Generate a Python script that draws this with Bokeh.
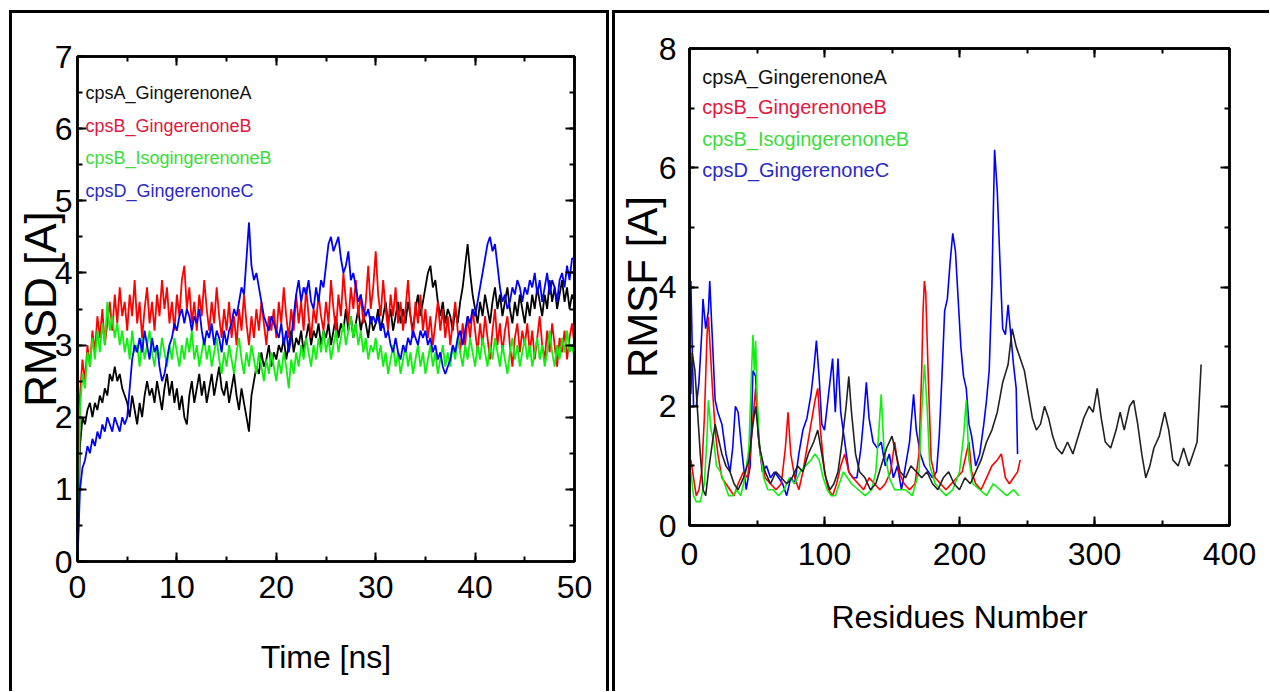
from bokeh.plotting import figure
from bokeh.models import Range1d, LinearAxis, SingleIntervalTicker, Label, CustomJSTickFormatter
from bokeh.layouts import row
from bokeh.embed import file_html
from bokeh.resources import INLINE

# ---------------- data: RMSD (every 0.25 ns) ----------------
rmsd_cpsA_GingerenoneA = [
    0.0, 1.6, 2.0, 1.9, 2.1, 2.2, 2.0, 2.2, 2.1, 2.3, 2.2, 2.4, 2.3, 2.6, 2.5, 2.7, 2.5, 2.6, 2.4, 2.3,
    2.2, 2.0, 2.3, 2.1, 1.9, 2.2, 2.0, 2.3, 2.5, 2.3, 2.4, 2.2, 2.5, 2.3, 2.1, 2.4, 2.6, 2.3, 2.5, 2.2,
    2.4, 2.1, 2.3, 2.0, 1.9, 2.3, 2.5, 2.2, 2.4, 2.6, 2.3, 2.5, 2.2, 2.4, 2.6, 2.3, 2.5, 2.7, 2.4, 2.3,
    2.5, 2.2, 2.4, 2.6, 2.3, 2.1, 2.4, 2.2, 2.0, 1.8, 2.3, 2.5, 2.7, 2.6, 2.9, 2.7, 2.8, 3.0, 2.7, 2.9,
    2.8, 3.0, 2.9, 3.1, 2.8, 3.0, 3.2, 2.9, 3.1, 3.0, 3.2, 2.9, 3.1, 3.3, 3.0, 3.2, 3.1, 3.3, 3.0, 3.2,
    3.1, 3.3, 3.0, 3.2, 3.4, 3.1, 3.3, 3.2, 3.5, 3.2, 3.4, 3.1, 3.3, 3.5, 3.2, 3.4, 3.3, 3.1, 3.4, 3.2,
    3.3, 3.5, 3.2, 3.4, 3.6, 3.3, 3.5, 3.2, 3.4, 3.6, 3.3, 3.5, 3.3, 3.6, 3.4, 3.2, 3.5, 3.7, 3.4, 3.6,
    3.8, 4.0, 4.1, 3.8, 3.9, 3.6, 3.4, 3.6, 3.3, 3.5, 3.4, 3.2, 3.5, 3.3, 3.6, 3.8, 4.1, 4.4, 4.0, 3.7,
    3.5, 3.3, 3.6, 3.4, 3.7, 3.5, 3.3, 3.6, 3.8, 3.5, 3.7, 3.4, 3.6, 3.8, 3.5, 3.3, 3.6, 3.4, 3.7, 3.5,
    3.3, 3.6, 3.4, 3.7, 3.5, 3.8, 3.6, 3.4, 3.7, 3.5, 3.9, 3.6, 3.8, 3.5, 3.7, 3.9, 3.6, 3.8, 3.5, 3.7,
    3.6]
rmsd_cpsB_GingerenoneB = [
    0.0, 2.3, 2.8, 2.5, 3.0, 2.7, 3.2, 2.9, 3.4, 3.1, 3.5, 3.0, 3.3, 3.6, 3.2, 3.7, 3.3, 3.8, 3.4, 3.6,
    3.2, 3.7, 3.4, 3.9, 3.3, 3.6, 3.1, 3.5, 3.8, 3.3, 3.6, 3.2, 3.7, 3.4, 3.9, 3.5, 3.8, 3.3, 3.6, 3.2,
    3.7, 3.4, 3.9, 4.1, 3.5, 3.8, 3.3, 3.6, 3.2, 3.7, 3.4, 3.9, 3.5, 3.2, 3.6, 3.3, 3.8, 3.4, 3.1, 3.5,
    3.2, 3.6, 3.1, 3.4, 3.0, 3.5, 3.2, 3.7, 3.3, 3.0, 3.4, 3.1, 3.5, 3.2, 3.6, 3.3, 3.0, 3.4, 3.2, 3.5,
    3.1, 3.6, 3.3, 3.8, 3.4, 3.1, 3.5, 3.2, 3.7, 3.3, 3.6, 3.2, 3.8, 3.4, 3.1, 3.5, 3.3, 3.7, 3.4, 3.2,
    3.6, 3.3, 3.9, 3.5, 3.2, 3.7, 3.4, 4.0, 3.6, 3.3, 3.8, 3.5, 3.9, 3.4, 3.7, 3.3, 3.6, 4.1, 3.5, 3.8,
    4.3, 3.7, 3.4, 3.9, 3.5, 3.2, 3.7, 3.4, 3.8, 3.3, 3.6, 3.2, 3.5, 3.9, 3.4, 3.1, 3.6, 3.3, 3.7, 3.2,
    3.5, 3.1, 3.4, 3.0, 3.3, 3.6, 3.2, 3.5, 3.1, 3.4, 3.0, 3.3, 3.6, 3.2, 2.9, 3.3, 3.0, 3.4, 3.1, 3.5,
    3.2, 2.9, 3.3, 3.0, 3.4, 3.1, 2.8, 3.2, 3.5, 3.0, 3.3, 2.9, 3.2, 3.4, 3.0, 2.7, 3.1, 3.3, 2.9, 3.2,
    3.0, 3.3, 2.9, 3.2, 2.8, 3.1, 3.4, 3.0, 2.8, 3.2, 2.9, 3.3, 3.0, 2.7, 3.1, 2.9, 3.2, 2.8, 3.1, 3.3,
    3.0]
rmsd_cpsB_IsogingerenoneB = [
    0.0, 2.1, 2.6, 2.4, 2.9, 2.7, 3.1, 2.8, 3.2, 2.9, 3.3, 3.0, 3.6, 3.2, 3.4, 3.1, 3.3, 3.0, 3.2, 2.9,
    3.1, 2.8, 3.2, 2.9, 3.0, 2.7, 3.1, 2.8, 3.0, 3.2, 2.9, 2.7, 3.0, 2.8, 3.1, 2.9, 2.7, 3.0, 2.8, 3.1,
    2.9, 2.7, 3.0, 2.8, 3.1, 2.9, 3.2, 2.8, 3.0, 2.7, 2.9, 3.1, 2.8, 3.0, 2.7, 2.9, 3.1, 2.8, 2.6, 2.9,
    2.7, 3.0, 2.8, 2.6, 2.9, 3.1, 2.8, 2.6, 2.9, 2.7, 3.0, 2.8, 2.6, 2.9, 2.7, 2.5, 2.8, 2.6, 2.9, 2.7,
    2.5, 2.8, 2.6, 2.9, 2.7, 2.4, 2.8, 2.6, 2.9, 2.7, 3.0, 2.8, 3.1, 2.9, 2.7, 3.0, 2.8, 3.1, 2.9, 3.2,
    2.9, 3.1, 2.8, 3.0, 3.2, 2.9, 3.1, 3.3, 3.0, 3.2, 3.4, 3.1, 3.3, 3.0, 3.2, 2.9, 3.1, 2.8, 3.0, 2.9,
    3.1, 2.8, 3.0, 2.7, 2.9, 2.6, 2.8, 3.0, 2.7, 2.9, 2.6, 2.8, 3.0, 2.7, 2.9, 2.6, 2.8, 3.0, 2.7, 2.9,
    2.6, 2.8, 3.0, 2.7, 2.9, 2.6, 2.8, 3.0, 2.7, 2.9, 2.7, 3.0, 2.8, 3.1, 2.9, 2.7, 3.0, 2.8, 3.1, 2.9,
    2.7, 3.0, 2.8, 3.1, 2.9, 2.7, 3.0, 2.8, 3.1, 2.9, 2.7, 3.0, 2.8, 2.6, 2.9, 3.1, 2.8, 3.0, 2.7, 2.9,
    3.1, 2.8, 3.0, 2.7, 2.9, 3.1, 2.8, 3.0, 2.7, 2.9, 3.2, 2.9, 2.7, 3.0, 2.8, 3.1, 2.9, 3.2, 2.9, 3.0,
    2.8]
rmsd_cpsD_GingerenoneC = [
    0.0, 1.0, 1.3, 1.4, 1.6, 1.5, 1.7, 1.6, 1.8, 1.7, 1.9, 1.8, 2.0, 1.9, 1.8, 2.0, 1.9, 1.8, 2.0, 1.9,
    2.0, 2.4, 2.8, 3.0, 2.9, 3.1, 2.9, 3.2, 3.0, 2.8, 3.1, 2.9, 3.0, 2.7, 2.5, 2.6, 2.8, 3.0, 3.1, 3.3,
    3.2, 3.4, 3.5, 3.3, 3.5, 3.4, 3.2, 3.4, 3.3, 3.5, 3.2, 3.0, 3.2, 3.1, 3.3, 3.0, 3.2, 3.1, 2.9, 3.2,
    3.0, 3.2, 3.3, 3.5, 3.4, 3.6, 3.8, 3.7, 4.2, 4.7, 4.1, 3.9, 4.0, 3.8, 3.6, 3.4, 3.3, 3.2, 3.4, 3.3,
    3.2, 3.1, 3.3, 3.0, 3.2, 2.9, 3.1, 3.4, 3.7, 3.9, 3.6, 3.8, 3.7, 3.9, 3.6, 3.5, 3.8, 3.6, 3.9, 3.8,
    4.1, 4.4, 4.5, 4.3, 4.4, 4.5, 4.2, 4.0, 4.1, 4.3, 3.9, 4.0, 3.8, 3.6, 3.7, 3.5, 3.4, 3.5, 3.3, 3.4,
    3.3, 3.4, 3.2, 3.3, 3.1, 3.2, 3.0, 2.9, 3.1, 2.9, 2.8, 3.0, 2.9, 3.1, 3.0, 3.2, 3.1, 3.0, 3.2, 3.1,
    3.2, 3.0, 3.1, 2.9, 3.0, 2.8, 2.9, 2.7, 2.6, 2.7, 2.8, 3.0, 2.9, 3.1, 3.2, 3.0, 3.2, 3.4, 3.3, 3.5,
    3.4, 3.6, 3.8, 4.0, 4.2, 4.4, 4.5, 4.3, 4.4, 4.1, 3.8, 3.6, 3.7, 3.5, 3.6, 3.8, 3.7, 3.9, 3.8, 3.6,
    3.8, 3.7, 3.9, 3.8, 4.0, 3.7, 3.9, 3.6, 3.8, 4.0, 3.7, 3.9, 3.8, 3.6, 3.9, 4.0, 3.8, 4.1, 3.9, 4.2,
    4.2]
rmsd_step_ns = 0.25

# ---------------- data: RMSF (residue, value) ----------------
rmsf_cpsA_res = [1, 2, 4, 6, 8, 10, 12, 14, 17, 19, 21, 24, 27, 30, 33, 36, 40, 44, 47, 49,
                 52, 56, 60, 64, 68, 72, 76, 80, 84, 88, 92, 95, 98, 101, 104, 107, 110, 113, 116, 118,
                 120, 123, 126, 130, 134, 138, 142, 146, 150, 153, 156, 160, 164, 168, 172, 176, 180, 184, 188, 192,
                 196, 200, 204, 208, 212, 216, 220, 224, 228, 232, 236, 239, 242, 245, 248, 251, 254, 257, 260, 263,
                 266, 269, 272, 276, 280, 284, 288, 292, 296, 299, 302, 305, 308, 312, 316, 319, 322, 326, 329, 332,
                 335, 338, 341, 344, 348, 352, 355, 358, 362, 366, 370, 373, 376, 379]
rmsf_cpsA_val = [2.2, 2.9, 2.6, 1.9, 1.2, 0.6, 0.5, 0.9, 1.4, 1.7, 1.5, 1.2, 1.0, 0.9, 0.7, 0.6, 0.8, 1.1, 1.7, 2.0,
                 1.3, 0.9, 0.7, 0.9, 0.8, 0.7, 0.8, 1.0, 0.9, 1.2, 1.4, 1.6, 1.2, 0.8, 0.6, 0.7, 0.9, 1.4, 2.0, 2.5,
                 1.9, 1.2, 0.9, 0.8, 0.6, 0.7, 1.0, 1.3, 1.5, 1.2, 0.9, 0.8, 1.0, 0.9, 0.8, 0.9, 0.7, 0.6, 0.8, 0.9,
                 0.7, 0.6, 0.8, 0.7, 0.9, 1.1, 1.4, 1.6, 1.9, 2.4, 2.7, 3.3, 3.0, 2.8, 2.6, 2.2, 1.8, 1.6, 1.7, 2.0,
                 1.8, 1.5, 1.3, 1.2, 1.4, 1.2, 1.5, 1.8, 2.0, 1.9, 2.3, 1.8, 1.4, 1.3, 1.6, 1.9, 1.6, 2.0, 2.1, 1.7,
                 1.2, 0.8, 1.0, 1.3, 1.5, 1.9, 1.6, 1.1, 1.0, 1.3, 1.0, 1.2, 1.4, 2.7]
rmsf_cpsB_G_res = [1, 3, 5, 7, 9, 11, 13, 14, 15, 17, 19, 21, 24, 27, 30, 33, 36, 40, 43, 45,
                   47, 49, 51, 53, 56, 60, 64, 68, 71, 73, 75, 78, 81, 84, 87, 90, 93, 95, 97, 100,
                   103, 106, 109, 112, 115, 118, 121, 125, 129, 133, 137, 141, 145, 149, 152, 155, 159, 163, 167, 170,
                   172, 173, 174, 175, 177, 179, 182, 186, 190, 194, 198, 202, 205, 207, 209, 212, 216, 220, 224, 228,
                   231, 234, 237, 240, 243, 245]
rmsf_cpsB_G_val = [1.1, 0.8, 0.5, 0.6, 0.9, 1.8, 3.2, 3.5, 3.1, 2.3, 1.6, 1.2, 0.8, 0.7, 0.6, 0.5, 0.7, 0.9, 0.8, 1.2,
                   1.8, 2.3, 1.5, 1.1, 0.8, 0.7, 0.6, 0.7, 1.3, 1.9, 1.2, 0.8, 0.6, 0.9, 1.3, 1.7, 2.1, 2.3, 1.6, 0.9,
                   0.6, 0.5, 0.7, 1.0, 1.2, 0.9, 0.8, 0.7, 0.6, 0.8, 0.7, 0.6, 0.7, 0.9, 1.4, 0.9, 0.7, 0.6, 0.7, 1.2,
                   2.6, 3.6, 4.1, 3.9, 2.4, 1.1, 0.8, 0.7, 0.6, 0.7, 0.8, 0.9, 1.2, 1.4, 0.9, 0.7, 0.6, 0.8, 1.0, 1.1,
                   1.2, 0.8, 0.7, 0.8, 0.9, 1.1]
rmsf_cpsB_I_res = [1, 3, 5, 8, 11, 13, 14, 16, 18, 20, 23, 26, 29, 32, 35, 38, 41, 44, 46, 47,
                   48, 49, 50, 52, 55, 58, 62, 66, 70, 74, 78, 82, 86, 90, 93, 96, 99, 102, 105, 108,
                   111, 114, 117, 120, 125, 130, 135, 138, 140, 142, 144, 148, 152, 156, 160, 165, 170, 172, 174, 176,
                   178, 182, 186, 190, 195, 200, 203, 205, 207, 210, 215, 220, 225, 230, 235, 240, 244]
rmsf_cpsB_I_val = [0.9, 0.5, 0.4, 0.4, 0.7, 1.5, 2.1, 1.6, 1.4, 1.0, 0.9, 0.7, 0.5, 0.5, 0.6, 0.5, 0.8, 1.3, 2.6, 3.2,
                   2.6, 3.1, 2.2, 1.3, 0.8, 0.6, 0.6, 0.5, 0.6, 0.8, 0.7, 0.9, 1.0, 1.1, 1.2, 1.1, 0.8, 0.6, 0.5, 0.5,
                   0.7, 0.9, 0.8, 0.7, 0.6, 0.5, 0.6, 0.9, 1.5, 2.2, 1.3, 0.8, 0.6, 0.6, 0.6, 0.5, 0.9, 1.9, 2.7, 2.0,
                   1.0, 0.7, 0.6, 0.5, 0.6, 0.9, 1.5, 2.1, 1.1, 0.7, 0.6, 0.5, 0.7, 0.6, 0.5, 0.6, 0.5]
rmsf_cpsD_res = [1, 2, 3, 5, 7, 9, 10, 12, 14, 15, 17, 19, 21, 24, 27, 30, 32, 34, 36, 39,
                 42, 45, 47, 49, 51, 54, 57, 60, 63, 66, 69, 72, 75, 78, 81, 84, 87, 90, 92, 94,
                 96, 98, 100, 102, 104, 106, 108, 110, 112, 115, 118, 121, 124, 127, 129, 131, 133, 136, 139, 142,
                 145, 148, 151, 154, 157, 160, 163, 166, 168, 171, 174, 177, 180, 183, 185, 187, 189, 191, 193, 195,
                 197, 199, 201, 203, 205, 207, 209, 212, 215, 218, 220, 222, 224, 225, 226, 228, 230, 232, 234, 236,
                 238, 240, 242, 243]
rmsf_cpsD_val = [4.1, 3.0, 2.0, 2.0, 2.4, 3.2, 3.8, 3.3, 3.6, 4.1, 3.1, 2.1, 1.9, 1.7, 1.2, 0.9, 1.3, 2.0, 1.9, 1.2,
                 0.6, 1.0, 2.6, 2.5, 1.5, 0.9, 1.0, 0.8, 0.9, 0.8, 0.7, 0.5, 0.8, 0.7, 1.2, 1.6, 1.8, 2.2, 2.6, 3.1,
                 2.5, 1.7, 1.6, 2.0, 2.4, 2.8, 1.9, 2.8, 1.9, 1.4, 0.9, 0.8, 0.8, 1.3, 1.8, 2.4, 1.8, 1.4, 1.3, 1.4,
                 1.0, 1.2, 0.8, 1.0, 0.6, 1.0, 1.4, 2.2, 1.6, 1.2, 1.0, 0.9, 0.8, 0.9, 1.5, 2.5, 3.6, 3.8, 4.4, 4.9,
                 4.6, 3.8, 3.0, 2.5, 2.3, 1.7, 1.5, 1.0, 1.2, 1.7, 2.1, 2.6, 4.0, 5.2, 6.3, 5.6, 4.4, 3.3, 3.2, 3.7,
                 3.2, 2.7, 2.3, 1.2]

legend_names = ["cpsA_GingerenoneA", "cpsB_GingerenoneB", "cpsB_IsogingerenoneB", "cpsD_GingerenoneC"]
line_colors = ["#000000", "#ff0000", "#0ef00e", "#0000ff"]
text_colors = ["#111111", "#e3173d", "#3cdc3c", "#2a2ac6"]

SANS = "Liberation Sans"


def make_panel(width, height, xr, yr, xint, yint, margin, borders):
    p = figure(width=width, height=height, x_range=Range1d(*xr), y_range=Range1d(*yr),
               output_backend="svg", toolbar_location=None, frame_align=False,
               margin=margin, **borders)
    p.grid.visible = False
    p.background_fill_color = "white"
    p.border_fill_color = "white"
    p.outline_line_color = "black"
    p.outline_line_width = 2.5
    bottom = p.below[0]
    left = p.left[0]
    bottom.ticker = SingleIntervalTicker(interval=xint, num_minor_ticks=2)
    left.ticker = SingleIntervalTicker(interval=yint, num_minor_ticks=2)
    blank = CustomJSTickFormatter(code="return ''")
    top = LinearAxis(ticker=SingleIntervalTicker(interval=xint, num_minor_ticks=2), formatter=blank)
    right = LinearAxis(ticker=SingleIntervalTicker(interval=yint, num_minor_ticks=2), formatter=blank)
    p.add_layout(top, "above")
    p.add_layout(right, "right")
    for ax in (top, right):
        ax.major_label_standoff = 0
        ax.major_label_text_font_size = "8px"
    for ax in (bottom, left, top, right):
        ax.axis_line_width = 2.5
        ax.axis_line_color = "black"
        ax.major_tick_line_width = 2
        ax.minor_tick_line_width = 2
        ax.major_tick_in = 9
        ax.major_tick_out = 0
        ax.minor_tick_in = 5
        ax.minor_tick_out = 0
    for ax in (bottom, left):
        ax.major_label_text_font = SANS
        ax.major_label_text_font_size = "32px"
        ax.major_label_text_color = "black"
        ax.axis_label_text_font = SANS
        ax.axis_label_text_font_style = "normal"
        ax.axis_label_text_color = "black"
    return p, bottom, left


# ---------------- left panel: RMSD ----------------
p1, b1, l1 = make_panel(600, 681, (0, 50), (0, 7), 10, 1, (10, 0, 0, 9),
                        dict(min_border_left=52, min_border_right=38, min_border_top=43, min_border_bottom=133))
b1.axis_label = "Time [ns]"
b1.axis_label_text_font_size = "32px"
b1.major_label_standoff = 14
b1.axis_label_standoff = 38
l1.axis_label = "RMSD [A]"
l1.axis_label_text_font_size = "44px"
l1.major_label_standoff = 5
l1.axis_label_standoff = -13

rmsd_series = [rmsd_cpsA_GingerenoneA, rmsd_cpsB_GingerenoneB, rmsd_cpsB_IsogingerenoneB, rmsd_cpsD_GingerenoneC]
for vals, col in zip(rmsd_series, line_colors):
    t = [rmsd_step_ns * i for i in range(len(vals))]
    p1.line(t, vals, line_color=col, line_width=1.8)

leg1_y = [6.50, 6.04, 5.59, 5.13]
for name, col, yy in zip(legend_names, text_colors, leg1_y):
    p1.add_layout(Label(x=0.8, y=yy, text=name, text_color=col, text_font=SANS,
                        text_font_size="18px", text_baseline="middle"))

p1.styles = {"border-top": "3px solid black", "border-left": "3px solid black",
             "border-right": "3px solid black"}

# ---------------- right panel: RMSF ----------------
p2, b2, l2 = make_panel(657, 681, (0, 400), (0, 8), 100, 2, (10, 0, 0, 3),
                        dict(min_border_left=63, min_border_right=43, min_border_top=35, min_border_bottom=169))
b2.axis_label = "Residues Number"
b2.axis_label_text_font_size = "32px"
b2.major_label_standoff = 17
b2.axis_label_standoff = 31
l2.axis_label = "RMSF [A]"
l2.axis_label_text_font_size = "42px"
l2.major_label_standoff = 13
l2.axis_label_standoff = -10

rmsf_series = [(rmsf_cpsD_res, rmsf_cpsD_val, line_colors[3]),
               (rmsf_cpsB_G_res, rmsf_cpsB_G_val, line_colors[1]),
               (rmsf_cpsB_I_res, rmsf_cpsB_I_val, line_colors[2]),
               (rmsf_cpsA_res, rmsf_cpsA_val, "#222222")]
for rx, ry, col in rmsf_series:
    p2.line(rx, ry, line_color=col, line_width=1.6)

leg2_y = [7.53, 7.02, 6.49, 5.96]
for name, col, yy in zip(legend_names, text_colors, leg2_y):
    p2.add_layout(Label(x=9.5, y=yy, text=name, text_color=col, text_font=SANS,
                        text_font_size="20px", text_baseline="middle"))

p2.styles = {"border-top": "3px solid black", "border-left": "3px solid black"}

layout = row(p1, p2, spacing=0)
open("out.html", "w").write(file_html(layout, INLINE))
